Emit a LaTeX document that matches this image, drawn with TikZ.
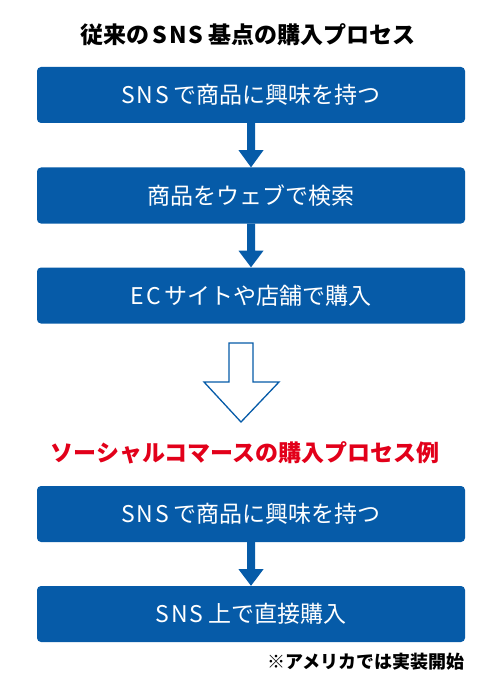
\documentclass[tikz,border=0pt]{standalone}
\usepackage{fontspec}
\newfontfamily\jp{Noto Sans CJK JP}
\definecolor{boxblue}{RGB}{6,91,168}
\definecolor{titlered}{RGB}{226,0,26}
\tikzset{
  x=1pt,y=-1pt,
  stepbox/.style={fill=boxblue,rounded corners=4pt,minimum width=428pt,minimum height=56pt,inner sep=0pt,
    text=white,font=\jp\fontsize{23}{27}\selectfont},
  heading/.style={inner sep=0pt,font=\jp\bfseries\fontsize{23}{27}\selectfont},
}
\newcommand{\wideSNS}{{\addfontfeature{LetterSpace=8}SNS}\hspace{5pt}}
\newcommand{\wideEC}{{\addfontfeature{LetterSpace=8}EC}\hspace{3pt}}
\begin{document}
\begin{tikzpicture}
\useasboundingbox (0,0) rectangle (500,687);
\fill[white] (0,0) rectangle (500,687);
\node[heading] (title) at (248,35) {従来の\hspace{3pt}\wideSNS 基点の購入プロセス};
\node[stepbox] (b1) at (251,95) {\wideSNS で商品に興味を持つ};
\node[stepbox] (b2) at (251,195.5) {商品をウェブで検索};
\node[stepbox] (b3) at (251,295.5) {\wideEC サイトや店舗で購入};
\node[heading,text=titlered] (red) at (245,453) {ソーシャルコマースの購入プロセス例};
\node[stepbox] (b4) at (251,514) {\wideSNS で商品に興味を持つ};
\node[stepbox] (b5) at (251,614) {\wideSNS 上で直接購入};
\node[inner sep=0pt,anchor=east,font=\jp\bfseries\fontsize{18}{22}\selectfont] (note) at (465,662) {※アメリカでは実装開始};
% small arrows
\foreach \a/\b in {b1/b2,b2/b3,b4/b5}{
  \fill[boxblue] ([xshift=-4pt]\a.south) -- ([xshift=-4pt,yshift=-27pt]\a.south) -- ([xshift=-12.5pt,yshift=-27pt]\a.south)
    -- (\b.north) -- ([xshift=12.5pt,yshift=-27pt]\a.south) -- ([xshift=4pt,yshift=-27pt]\a.south) -- ([xshift=4pt]\a.south) -- cycle;
}
% hollow arrow
\draw[boxblue,line width=1.3pt,line join=miter] (229,343) -- (253,343) -- (253,382) -- (279,382) -- (241,422) -- (204,382) -- (229,382) -- cycle;
\end{tikzpicture}
\end{document}
